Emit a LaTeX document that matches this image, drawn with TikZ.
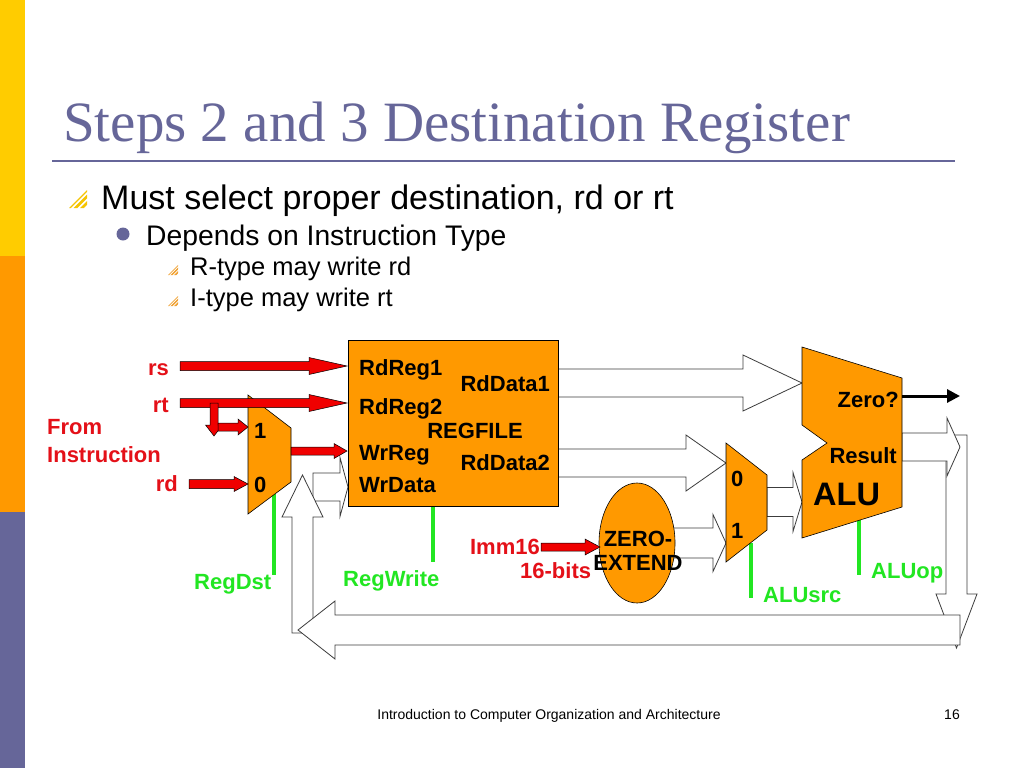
\documentclass[tikz,border=0pt]{standalone}
\usepackage{fontspec}
\setmainfont{Liberation Sans}
\newfontfamily\titlefont{Liberation Serif}
\usetikzlibrary{arrows.meta,calc,shapes.geometric}
\definecolor{titleblue}{RGB}{102,102,153}
\definecolor{sideyellow}{RGB}{255,204,0}
\definecolor{sideorange}{RGB}{255,153,0}
\definecolor{sideblue}{RGB}{102,102,153}
\definecolor{orng}{RGB}{255,153,0}
\definecolor{lblred}{RGB}{228,16,24}
\definecolor{arrred}{RGB}{240,0,0}
\definecolor{ctrlgreen}{RGB}{34,230,34}
\definecolor{iconyellow}{RGB}{245,196,0}
\definecolor{iconorange}{RGB}{240,160,48}
\definecolor{busgray}{RGB}{60,60,60}
% fat arrow: #1 style, #2 start coord, #3 tip coord, #4 shaft half width, #5 head half width, #6 head length
\newcommand\fatarrow[6]{%
  \coordinate (fab) at ($(#3)!#6!(#2)$);
  \path[#1] ($(#2)!#4!90:(#3)$) -- ($(fab)!#4!90:(#3)$) -- ($(fab)!#5!90:(#3)$) -- (#3)
     -- ($(fab)!#5!-90:(#3)$) -- ($(fab)!#4!-90:(#3)$) -- ($(#2)!#4!-90:(#3)$) -- cycle;}
% hatched bullet icon: #1 x, #2 y (bottom-left), #3 size, #4 colour
\newcommand\hatchicon[4]{%
  \begin{scope}
    \clip (#1,#2) -- ++(#3,0) -- ++(0,-#3) -- cycle;
    \foreach \k in {0,0.36,0.72}
      \draw[#4, line width=#3*0.15] (#1+\k*#3-1,#2+1) -- (#1+#3+1,#2-#3+\k*#3-1);
  \end{scope}}
\begin{document}
\begin{tikzpicture}[x=1pt,y=-1pt,
  block/.style={draw=black, fill=orng, line width=0.6pt},
  bus/.style={draw=busgray, fill=white, line width=0.8pt},
  redarr/.style={draw=black, fill=arrred, line width=0.5pt},
  ctrl/.style={draw=ctrlgreen, line width=4pt},
  lbl/.style={font=\bfseries\fontsize{22}{24}\selectfont, inner sep=0},
  redlbl/.style={lbl, text=lblred},
  grnlbl/.style={lbl, text=ctrlgreen},
  txt/.style={inner sep=0, anchor=base west}]
\useasboundingbox (0,0) rectangle (1024,768);
\fill[white] (0,0) rectangle (1024,768);
% sidebar
\fill[sideyellow] (0,0) rectangle (25,256);
\fill[sideorange] (0,256) rectangle (25,512);
\fill[sideblue] (0,512) rectangle (25,768);
% title
\node[txt, font=\titlefont\fontsize{57}{62}\selectfont, text=titleblue] (title) at (63,141) {Steps 2 and 3 Destination Register};
\draw[titleblue, line width=2pt] (52,161) -- (955,161);
% bullets
\hatchicon{69}{208}{18}{iconyellow}
\node[txt, font=\fontsize{34}{40}\selectfont] (b1) at (101,209) {Must select proper destination, rd or rt};
\fill[titleblue] (123,234) circle (6.5);
\node[txt, font=\fontsize{28.3}{34}\selectfont] (b2) at (146,245) {Depends on Instruction Type};
\hatchicon{168}{275}{10}{iconorange}
\node[txt, font=\fontsize{25.5}{30}\selectfont] (b3) at (190,275) {R-type may write rd};
\hatchicon{168}{306}{10}{iconorange}
\node[txt, font=\fontsize{25.5}{30}\selectfont] (b4) at (190,306) {I-type may write rt};

% ---- coordinates
\coordinate (rsS) at (180,366);   \coordinate (rsT) at (347,366);
\coordinate (rtS) at (180,403);   \coordinate (rtT) at (347,403);
\coordinate (brS) at (214,403);   \coordinate (brT) at (214,436);
\coordinate (b2S) at (218,427);   \coordinate (b2T) at (248,427);
\coordinate (rdS) at (189,484);   \coordinate (rdT) at (248,484);
\coordinate (wrS) at (291,451);   \coordinate (wrT) at (347,451);
\coordinate (imS) at (541,547);   \coordinate (imT) at (600,547);
\coordinate (dnS) at (956.5,435); \coordinate (dnT) at (956.5,648);
\coordinate (upS) at (302.5,633); \coordinate (upT) at (302.5,475);
\coordinate (fbS) at (960,630);   \coordinate (fbT) at (298,630);
\coordinate (resS) at (902,447);  \coordinate (resT) at (960,447);
\coordinate (wdS) at (313,487);   \coordinate (wdT) at (348,487);
\coordinate (d1S) at (558,383);   \coordinate (d1T) at (802,383);
\coordinate (d2S) at (558,463);   \coordinate (d2T) at (726,463);
\coordinate (zeS) at (672,543);   \coordinate (zeT) at (726,543);
\coordinate (m2S) at (767,502);   \coordinate (m2T) at (802,502);
\coordinate (zS) at (902,396);    \coordinate (zT) at (960,396);

% ---- hollow buses
\fatarrow{bus}{dnS}{dnT}{10.5pt}{20.5pt}{54pt}
\fatarrow{bus}{wdS}{wdT}{14pt}{29.5pt}{8pt}
\fatarrow{bus}{upS}{upT}{10.5pt}{20.5pt}{42pt}
\fatarrow{bus}{fbS}{fbT}{15pt}{29pt}{37pt}
\fatarrow{bus}{resS}{resT}{14pt}{29pt}{13pt}
\fatarrow{bus}{d1S}{d1T}{14pt}{28pt}{59pt}
\fatarrow{bus}{d2S}{d2T}{14pt}{28pt}{40pt}
\fatarrow{bus}{zeS}{zeT}{15pt}{28.5pt}{13pt}
\fatarrow{bus}{m2S}{m2T}{14.5pt}{29.5pt}{9pt}

% ---- control lines
\draw[ctrl] (274,494) -- (274,575);
\draw[ctrl] (433,506) -- (433,562);
\draw[ctrl] (751,543) -- (751,598);
\draw[ctrl] (859,520) -- (859,575);

% ---- blocks
\node[block, minimum width=210, minimum height=166, anchor=north west, inner sep=0] (rf) at (348,340) {};
\draw[block] (802,347) -- (902,378) -- (902,507) -- (802,538) -- (802,460) -- (827,443) -- (802,425) -- cycle;
\draw[block] (248,395) -- (291,428) -- (291,482) -- (248,514) -- cycle;
\draw[block] (726,443) -- (767,475) -- (767,530) -- (726,562) -- cycle;
\node[block, ellipse, minimum width=76, minimum height=120, inner sep=0] (ze) at (637,543) {};

% ---- red arrows
\fatarrow{redarr}{rsS}{rsT}{4.5pt}{8.5pt}{38pt}
\fatarrow{redarr}{rtS}{rtT}{4.5pt}{8.5pt}{38pt}
\fatarrow{redarr}{brS}{brT}{4pt}{8.5pt}{11pt}
\fatarrow{redarr}{b2S}{b2T}{4pt}{8pt}{10pt}
\fatarrow{redarr}{rdS}{rdT}{4.5pt}{7.5pt}{14pt}
\fatarrow{redarr}{wrS}{wrT}{4pt}{7.5pt}{13pt}
\fatarrow{redarr}{imS}{imT}{4pt}{8pt}{15pt}

% ---- zero? output
\draw[line width=3pt, -{Triangle[length=13pt,width=13pt]}] (zS) -- (zT);

% ---- labels inside blocks
\node[lbl, anchor=base west] (l1) at (359,375) {RdReg1};
\node[lbl, anchor=base east] (l2) at (550,391) {RdData1};
\node[lbl, anchor=base west] (l3) at (359,414) {RdReg2};
\node[lbl, anchor=base] (l4) at (475,438) {REGFILE};
\node[lbl, anchor=base west] (l5) at (359,460) {WrReg};
\node[lbl, anchor=base east] (l6) at (550,470) {RdData2};
\node[lbl, anchor=base west] (l7) at (359,492) {WrData};
\node[lbl, anchor=base east] (l8) at (899,407) {Zero?};
\node[lbl, anchor=base east] (l9) at (897,463) {Result};
\node[lbl, anchor=base west, font=\bfseries\fontsize{32.5}{36}\selectfont] (l10) at (813,505) {ALU};
\node[lbl, anchor=base west] (m1a) at (254,438) {1};
\node[lbl, anchor=base west] (m1b) at (254,492) {0};
\node[lbl, anchor=base west] (m2a) at (731,486) {0};
\node[lbl, anchor=base west] (m2b) at (731,538) {1};
\node[lbl, anchor=base] (z1) at (638,546) {ZERO-};
\node[lbl, anchor=base] (z2) at (638,570) {EXTEND};

% ---- red labels
\node[redlbl, anchor=base east] (rs) at (169,375) {rs};
\node[redlbl, anchor=base east] (rt) at (169,412) {rt};
\node[redlbl, anchor=base west] (from) at (47,434) {From};
\node[redlbl, anchor=base west] (instr) at (47,462) {Instruction};
\node[redlbl, anchor=base east] (rd) at (178,491) {rd};
\node[redlbl, anchor=base east] (imm) at (540,554) {Imm16};
\node[redlbl, anchor=base west] (bits) at (520,578) {16-bits};

% ---- green labels
\node[grnlbl, anchor=base west] (regdst) at (194,589) {RegDst};
\node[grnlbl, anchor=base west] (regwr) at (343,586) {RegWrite};
\node[grnlbl, anchor=base west] (alusrc) at (763,602) {ALUsrc};
\node[grnlbl, anchor=base west] (aluop) at (871,578) {ALUop};

% ---- footer
\node[inner sep=0, anchor=base, font=\fontsize{14}{16}\selectfont] (foot) at (549,719) {Introduction to Computer Organization and Architecture};
\node[inner sep=0, anchor=base east, font=\fontsize{14}{16}\selectfont] (page) at (960,719) {16};
\end{tikzpicture}
\end{document}
